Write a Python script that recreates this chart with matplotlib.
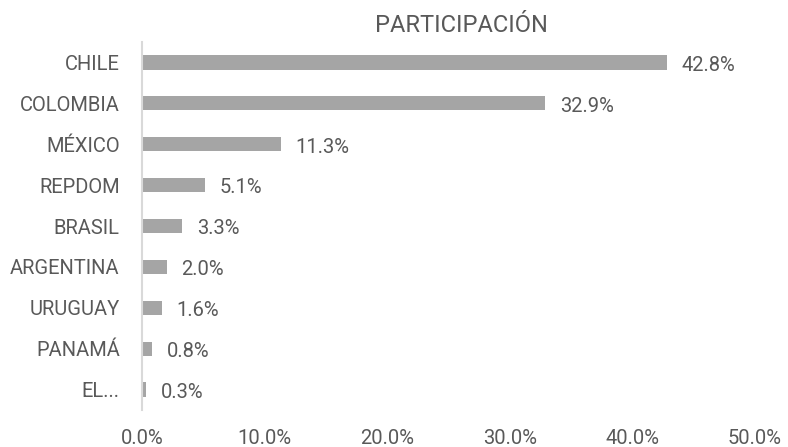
import matplotlib.pyplot as plt

# data
countries = ['CHILE', 'COLOMBIA', 'MÉXICO', 'REPDOM', 'BRASIL',
             'ARGENTINA', 'URUGUAY', 'PANAMÁ', 'EL...']
share = [42.8, 32.9, 11.3, 5.1, 3.3, 2.0, 1.6, 0.8, 0.3]
xticks = [0, 10, 20, 30, 40, 50]

plt.rcParams['font.family'] = ['Roboto', 'DejaVu Sans']
txt = '#595959'

fig = plt.figure(figsize=(7.88, 4.47), dpi=100)
ax = fig.add_axes([142 / 788, 1 - 410 / 447, (755 - 142) / 788, (410 - 42) / 447])

pos = list(range(len(countries)))
ax.barh(pos, share, height=0.35, color='#A5A5A5')
for p, v in zip(pos, share):
    ax.text(v + 1.2, p + 0.07, f'{v:.1f}%', va='center', ha='left',
            fontsize=14.5, color=txt)

ax.set_xlim(0, 50)
ax.set_ylim(len(countries) - 0.5, -0.5)
ax.set_yticks(pos)
ax.set_yticklabels(countries, fontsize=14.5, color=txt)
ax.set_xticks(xticks)
ax.set_xticklabels([f'{t:.1f}%' for t in xticks], fontsize=14.5, color=txt)
ax.tick_params(axis='both', length=0)
ax.tick_params(axis='x', pad=14)
ax.tick_params(axis='y', pad=16)
for s in ['top', 'right', 'bottom']:
    ax.spines[s].set_visible(False)
ax.spines['left'].set_color('#D9D9D9')
ax.spines['left'].set_linewidth(1.5)

fig.text(461 / 788, 1 - 25 / 447, 'PARTICIPACIÓN', ha='center', va='center',
         fontsize=17, color=txt)

fig.savefig('out.png', dpi=100)
